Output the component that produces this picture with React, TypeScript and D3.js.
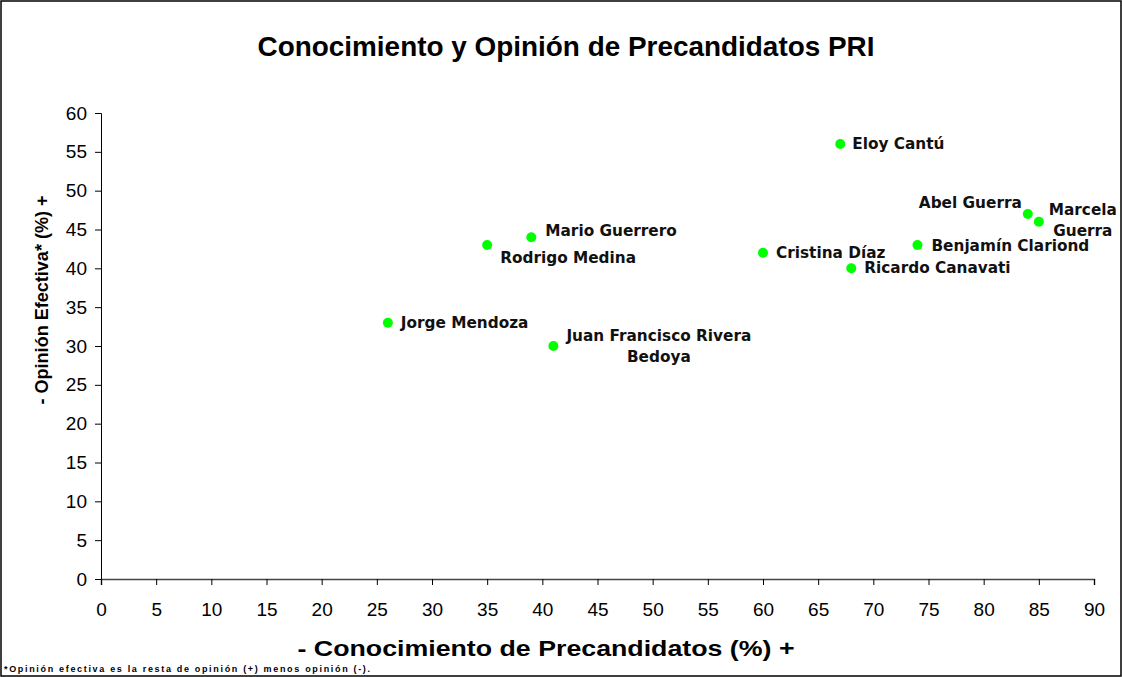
import { useRef, useEffect } from 'react';
import * as d3 from 'd3';

const TITLE = 'Conocimiento y Opinión de Precandidatos PRI';
const X_LABEL = '- Conocimiento de Precandidatos (%) +';
const Y_LABEL = '- Opinión Efectiva* (%) +';
const FOOTNOTE = '*Opinión efectiva es la resta de opinión (+) menos opinión (-).';

const CANDIDATES = [
  'Eloy Cantú',
  'Abel Guerra',
  'Marcela Guerra',
  'Mario Guerrero',
  'Rodrigo Medina',
  'Cristina Díaz',
  'Benjamín Clariond',
  'Ricardo Canavati',
  'Jorge Mendoza',
  'Juan Francisco Rivera Bedoya',
];
const CONOCIMIENTO = [67, 84, 85, 39, 35, 60, 74, 68, 26, 41];
const OPINION = [56, 47, 46, 44, 43, 42, 43, 40, 33, 30];

const X_TICKS = d3.range(0, 91, 5);
const Y_TICKS = d3.range(0, 61, 5);

// how each name sits next to its dot (label lines, anchor, offsets in px)
const LABEL_LAYOUT: Record<string, { lines: string[]; anchor: string; dx: number; dy: number[] }> = {
  'Eloy Cantú': { lines: ['Eloy Cantú'], anchor: 'start', dx: 12, dy: [0] },
  'Abel Guerra': { lines: ['Abel Guerra'], anchor: 'end', dx: -6, dy: [-11] },
  'Marcela Guerra': { lines: ['Marcela', 'Guerra'], anchor: 'middle', dx: 44, dy: [-12, 9] },
  'Mario Guerrero': { lines: ['Mario Guerrero'], anchor: 'start', dx: 14, dy: [-6] },
  'Rodrigo Medina': { lines: ['Rodrigo Medina'], anchor: 'start', dx: 13, dy: [13] },
  'Cristina Díaz': { lines: ['Cristina Díaz'], anchor: 'start', dx: 13, dy: [0] },
  'Benjamín Clariond': { lines: ['Benjamín Clariond'], anchor: 'start', dx: 14, dy: [1] },
  'Ricardo Canavati': { lines: ['Ricardo Canavati'], anchor: 'start', dx: 13, dy: [0] },
  'Jorge Mendoza': { lines: ['Jorge Mendoza'], anchor: 'start', dx: 13, dy: [0] },
  'Juan Francisco Rivera Bedoya': { lines: ['Juan Francisco Rivera', 'Bedoya'], anchor: 'middle', dx: 105.5, dy: [-10, 11] },
};

const AXIS_FONT = '"Liberation Sans", Arial, sans-serif';
const LABEL_FONT = '"DejaVu Sans", Verdana, sans-serif';

export default function App() {
  const svgRef = useRef<SVGSVGElement>(null);

  useEffect(() => {
    const W = 1122, H = 677;
    const svg = d3.select(svgRef.current);
    svg.selectAll('*').remove();

    svg.append('rect')
      .attr('x', 1).attr('y', 1)
      .attr('width', W - 2).attr('height', H - 2)
      .attr('fill', '#fff')
      .attr('stroke', '#000')
      .attr('stroke-width', 1.5);

    const x = d3.scaleLinear().domain([0, 90]).range([101, 1094]);
    const y = d3.scaleLinear().domain([0, 60]).range([579, 113]);

    // excel stretched its texts a bit, so fit widths to the reference
    svg.append('text')
      .attr('x', 566).attr('y', 56)
      .attr('text-anchor', 'middle')
      .attr('font-family', AXIS_FONT)
      .attr('font-weight', 'bold')
      .attr('font-size', 28)
      .attr('textLength', 617)
      .attr('lengthAdjust', 'spacingAndGlyphs')
      .text(TITLE);

    // X axis
    svg.append('g')
      .attr('transform', `translate(0,${y(0)})`)
      .call(d3.axisBottom(x).tickValues(X_TICKS).tickSize(6).tickPadding(18).tickFormat(d => String(d)))
      .call(sel => {
        sel.select('.domain').attr('stroke', '#444').attr('stroke-width', 1.5);
        sel.selectAll('line').attr('stroke', '#000');
        sel.selectAll('text')
          .attr('fill', '#000')
          .attr('font-family', AXIS_FONT)
          .attr('font-size', 19);
      });

    // Y axis
    svg.append('g')
      .attr('transform', `translate(${x(0)},0)`)
      .call(d3.axisLeft(y).tickValues(Y_TICKS).tickSize(6).tickPadding(8).tickFormat(d => String(d)))
      .call(sel => {
        sel.select('.domain').attr('stroke', '#000');
        sel.selectAll('line').attr('stroke', '#000');
        sel.selectAll('text')
          .attr('fill', '#000')
          .attr('font-family', AXIS_FONT)
          .attr('font-size', 19);
      });

    svg.append('text')
      .attr('x', 546).attr('y', 656)
      .attr('text-anchor', 'middle')
      .attr('font-family', AXIS_FONT)
      .attr('font-weight', 'bold')
      .attr('font-size', 22)
      .attr('textLength', 497)
      .attr('lengthAdjust', 'spacingAndGlyphs')
      .text(X_LABEL);

    svg.append('text')
      .attr('transform', `translate(48,300) rotate(-90)`)
      .attr('text-anchor', 'middle')
      .attr('font-family', AXIS_FONT)
      .attr('font-weight', 'bold')
      .attr('font-size', 18)
      .attr('textLength', 209)
      .attr('lengthAdjust', 'spacingAndGlyphs')
      .text(Y_LABEL);

    svg.append('text')
      .attr('x', 4).attr('y', 672)
      .attr('font-family', AXIS_FONT)
      .attr('font-weight', 'bold')
      .attr('font-size', 9)
      .attr('textLength', 366)
      .attr('lengthAdjust', 'spacing')
      .text(FOOTNOTE);

    // Points + labels
    const g = svg.append('g');
    CANDIDATES.forEach((name, i) => {
      const cx = x(CONOCIMIENTO[i]);
      const cy = y(OPINION[i]);
      g.append('circle')
        .attr('cx', cx).attr('cy', cy).attr('r', 5)
        .attr('fill', '#00ff00');
      const lay = LABEL_LAYOUT[name];
      lay.lines.forEach((line, j) => {
        g.append('text')
          .attr('x', cx + lay.dx)
          .attr('y', cy + lay.dy[j])
          .attr('dominant-baseline', 'central')
          .attr('text-anchor', lay.anchor)
          .attr('font-family', LABEL_FONT)
          .attr('font-weight', 'bold')
          .attr('font-size', 15.3)
          .attr('fill', '#111')
          .text(line);
      });
    });
  }, []);

  return (
    <svg
      ref={svgRef}
      width={1122}
      height={677}
      style={{ position: 'absolute', left: 0, top: 0, display: 'block' }}
    />
  );
}
